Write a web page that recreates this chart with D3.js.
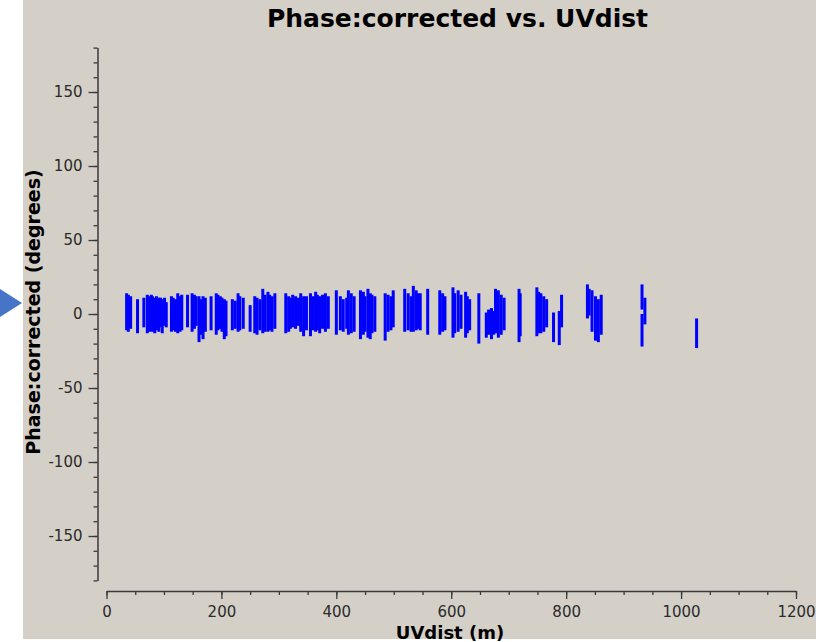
<!DOCTYPE html>
<html lang="en">
  <head>
    <meta charset="UTF-8">
    <script type="text/javascript" src="https://cdn.jsdelivr.net/npm/d3@7"></script>
    <style>
      body { margin: 0; background: #fff; }
      svg { display: block; }
    </style>
    <title>Phase:corrected vs. UVdist</title>
  </head>
  <body>
    <script type="text/javascript">
      // Phase vs UV distance: each baseline drawn as a vertical streak (min..max phase)

      let w = 816;
      let h = 642;

      let uvdist = [35, 38, 42, 54, 65, 71, 75, 78, 80, 84, 87, 91, 94, 97, 101, 104,
                    113, 116, 120, 124, 128, 131, 141, 149, 153, 156, 161, 165, 168, 172,
                    182, 191, 194, 198, 201, 205, 208, 219, 224, 229, 232, 238, 250,
                    258, 262, 267, 272, 276, 281, 284, 288, 293, 312, 317, 320, 324,
                    329, 334, 338, 343, 348, 355, 360, 364, 367, 371, 376, 381, 386,
                    400, 407, 412, 418, 421, 426, 431, 442, 447, 450, 455, 459, 462,
                    467, 485, 490, 495, 499, 519, 525, 530, 534, 539, 542, 546, 559,
                    580, 585, 589, 603, 606, 612, 617, 625, 628, 632, 648, 661, 665,
                    670, 674, 677, 682, 687, 692, 718, 720, 749, 752, 756, 761, 766,
                    778, 788, 792, 837, 840, 845, 851, 856, 861, 932, 932, 937, 1027];

      let phaseMin = [-11, -12, -10, -13, -9, -13, -12, -11, -12, -13, -11, -12, -9, -13, -8, -9,
                      -12, -11, -12, -13, -12, -11, -9, -12, -10, -8, -19, -14, -17, -12,
                      -11, -14, -11, -10, -12, -17, -15, -11, -10, -12, -11, -10, -12,
                      -13, -14, -11, -13, -12, -12, -11, -12, -10, -13, -12, -10, -9,
                      -10, -8, -12, -15, -11, -15, -11, -12, -11, -13, -10, -12, -10,
                      -14, -11, -12, -10, -14, -13, -12, -17, -14, -12, -16, -17, -13,
                      -12, -18, -12, -11, -9, -12, -11, -12, -12, -11, -10, -11, -14,
                      -14, -12, -11, -16, -13, -12, -10, -16, -13, -11, -20, -16, -14,
                      -17, -14, -13, -16, -14, -11, -19, -15, -15, -13, -13, -12, -9,
                      -19, -21, -9, -3, -1, -12, -18, -19, -14, 3, -22, -7, -23];

      let phaseMax = [14, 13, 12, 10, 11, 13, 12, 13, 12, 11, 12, 11, 11, 10, 11, 8,
                      12, 11, 10, 14, 12, 13, 13, 14, 13, 12, 12, 10, 12, 11,
                      12, 14, 13, 12, 11, 10, 9, 10, 9, 14, 12, 11, 6,
                      12, 11, 10, 17, 13, 15, 13, 12, 14, 14, 12, 11, 13,
                      12, 11, 14, 12, 12, 14, 12, 15, 13, 12, 13, 14, 12,
                      16, 12, 10, 11, 16, 14, 12, 16, 15, 12, 17, 14, 13,
                      12, 14, 13, 12, 16, 17, 14, 12, 19, 16, 14, 14, 17,
                      16, 14, 12, 18, 14, 16, 13, 15, 12, 10, 14, 1, 3,
                      4, 2, 17, 16, 13, 11, 17, 14, 18, 15, 14, 12, 10,
                      1, 2, 13, 20, 17, 16, 12, 10, 13, 20, 0, 11, -3];

      let xMajor = [0, 200, 400, 600, 800, 1000, 1200];
      let yMajor = [-150, -100, -50, 0, 50, 100, 150];

      let xScale = d3.scaleLinear()
                      .domain([0, 1200])
                      .range([106.5, 796]);

      let yScale = d3.scaleLinear()
                      .domain([-180, 180])
                      .range([580.4, 47.6]);

      let svg = d3.select('body')
                  .append('svg')
                  .attr('width', w)
                  .attr('height', h);

      // Panel background
      svg.append('rect')
          .attr('x', 23)
          .attr('y', 0)
          .attr('width', w - 23)
          .attr('height', 639)
          .attr('fill', '#d4d0c8');

      // Pointer arrow on the left margin
      svg.append('path')
          .attr('d', 'M0,289 L22,303 L0,317 Z')
          .attr('fill', '#4674c6');

      // Streaks
      svg.selectAll('rect.streak')
          .data(uvdist)
          .enter()
          .append('rect')
          .attr('class', 'streak')
          .attr('x', d => xScale(d) - 1.5)
          .attr('width', 3)
          .attr('y', (d, i) => yScale(phaseMax[i]))
          .attr('height', (d, i) => yScale(phaseMin[i]) - yScale(phaseMax[i]))
          .attr('fill', '#0000ff');

      // Axes
      let xAxisY = 591;
      let yAxisX = 97.5;

      let styleAxis = g => {
        g.select('.domain').attr('stroke', '#3a3a3a').attr('stroke-width', 1.5);
        g.selectAll('.tick line').attr('stroke', '#3a3a3a').attr('stroke-width', 1.3);
        g.selectAll('.tick text')
          .attr('font-family', 'DejaVu Sans')
          .attr('font-size', '15px')
          .attr('fill', '#2a2a2a');
      };

      svg.append('g')
          .attr('transform', 'translate(0,' + xAxisY + ')')
          .call(d3.axisBottom(xScale).tickValues(d3.range(0, 1201, 50)).tickSize(4).tickSizeOuter(0).tickFormat(''))
          .call(styleAxis);

      svg.append('g')
          .attr('transform', 'translate(0,' + xAxisY + ')')
          .call(d3.axisBottom(xScale).tickValues(xMajor).tickSize(8).tickSizeOuter(0).tickPadding(7).tickFormat(d => String(d)))
          .call(styleAxis)
          .call(g => g.select('.domain').remove());

      svg.append('g')
          .attr('transform', 'translate(' + yAxisX + ',0)')
          .call(d3.axisLeft(yScale).tickValues(d3.range(-180, 181, 10)).tickSize(4).tickSizeOuter(0).tickFormat(''))
          .call(styleAxis);

      svg.append('g')
          .attr('transform', 'translate(' + yAxisX + ',0)')
          .call(d3.axisLeft(yScale).tickValues(yMajor).tickSize(9).tickSizeOuter(0).tickPadding(6).tickFormat(d => String(d)))
          .call(styleAxis)
          .call(g => g.select('.domain').remove());

      // Titles
      svg.append('text')
          .text('Phase:corrected vs. UVdist')
          .attr('x', 457.5)
          .attr('y', 27)
          .attr('text-anchor', 'middle')
          .attr('font-family', 'DejaVu Sans')
          .attr('font-weight', 'bold')
          .attr('font-size', '25px')
          .attr('fill', '#000');

      svg.append('text')
          .text('UVdist (m)')
          .attr('x', 450)
          .attr('y', 639)
          .attr('text-anchor', 'middle')
          .attr('font-family', 'DejaVu Sans')
          .attr('font-weight', 'bold')
          .attr('font-size', '18px')
          .attr('fill', '#000');

      svg.append('text')
          .text('Phase:corrected (degrees)')
          .attr('transform', 'translate(40,312) rotate(-90)')
          .attr('text-anchor', 'middle')
          .attr('font-family', 'DejaVu Sans')
          .attr('font-weight', 'bold')
          .attr('font-size', '19px')
          .attr('fill', '#000');
    </script>
  </body>
</html>
